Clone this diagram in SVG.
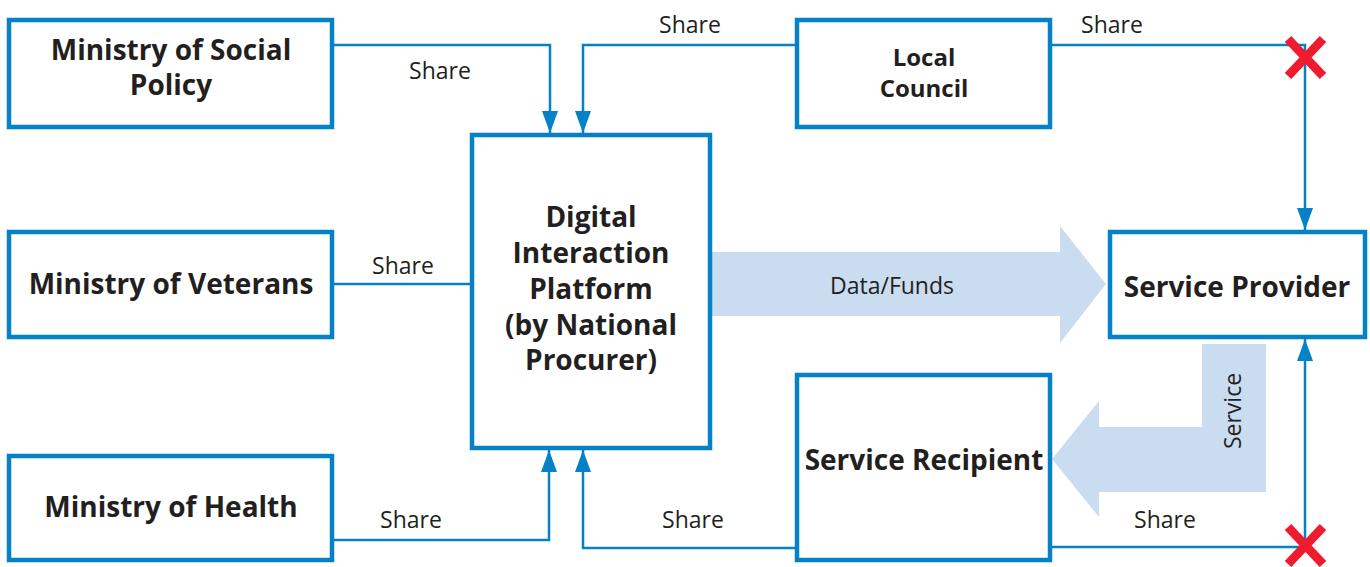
<svg xmlns="http://www.w3.org/2000/svg" width="1370" height="567" viewBox="0 0 1370 567">
  <style>
    .box { fill: #ffffff; stroke: #0581c8; stroke-width: 4.5; }
    .wire { fill: none; stroke: #0581c8; stroke-width: 2.5; }
    .flow { fill: #cadcf0; stroke: none; }
    .title { font-family: "Open Sans", "Noto Sans", sans-serif; font-weight: bold; font-size: 28px; fill: #231f20; text-anchor: middle; }
    .small { font-size: 24px; }
    .lbl { font-family: "Open Sans", "Noto Sans", sans-serif; font-size: 23px; fill: #231f20; text-anchor: middle; }
    .cross { stroke: #ee1c2e; stroke-width: 9; }
  </style>
  <defs>
    <marker id="arrow" viewBox="0 0 22 16" refX="22" refY="8" markerWidth="22" markerHeight="16" markerUnits="userSpaceOnUse" orient="auto">
      <path d="M0,0 L22,8 L0,16 Z" fill="#0581c8"/>
    </marker>
  </defs>

  <!-- wide flow arrows -->
  <g id="flows">
    <path class="flow" d="M712,252 H1060 V226 L1106,284 L1060,343 V316 H712 Z"/>
    <path class="flow" d="M1202,344 H1266 V492 H1099 V517 L1052,459 L1099,401 V427 H1202 Z"/>
  </g>

  <!-- connectors -->
  <g id="connectors">
    <path class="wire" d="M332,45 H550 V133" marker-end="url(#arrow)"/>
    <path class="wire" d="M797,45 H583 V133" marker-end="url(#arrow)"/>
    <path class="wire" d="M332,284 H472"/>
    <path class="wire" d="M332,540 H549 V450" marker-end="url(#arrow)"/>
    <path class="wire" d="M797,548 H583 V450" marker-end="url(#arrow)"/>
    <path class="wire" d="M1050,45 H1305 V230" marker-end="url(#arrow)"/>
    <path class="wire" d="M1050,547 H1305 V339" marker-end="url(#arrow)"/>
    <g class="cross">
      <line x1="1288" y1="39" x2="1323" y2="76"/>
      <line x1="1323" y1="39" x2="1288" y2="76"/>
      <line x1="1288" y1="527" x2="1323" y2="564"/>
      <line x1="1323" y1="527" x2="1288" y2="564"/>
    </g>
    <text class="lbl" x="440" y="79">Share</text>
    <text class="lbl" x="690" y="33">Share</text>
    <text class="lbl" x="403" y="274">Share</text>
    <text class="lbl" x="411" y="528">Share</text>
    <text class="lbl" x="693" y="528">Share</text>
    <text class="lbl" x="1112" y="33">Share</text>
    <text class="lbl" x="1165" y="528">Share</text>
    <text class="lbl" x="892" y="294">Data/Funds</text>
    <text class="lbl" transform="translate(1241,411) rotate(-90)">Service</text>
  </g>

  <g id="social-policy">
    <rect class="box" x="9" y="20" width="323" height="107"/>
    <text class="title" x="171" y="60">Ministry of Social</text>
    <text class="title" x="171" y="95">Policy</text>
  </g>
  <g id="veterans">
    <rect class="box" x="9" y="232" width="323" height="105"/>
    <text class="title" x="171" y="294">Ministry of Veterans</text>
  </g>
  <g id="health">
    <rect class="box" x="9" y="456" width="323" height="104"/>
    <text class="title" x="171" y="517">Ministry of Health</text>
  </g>
  <g id="platform">
    <rect class="box" x="472" y="135" width="238" height="313"/>
    <text class="title" x="591" y="227">Digital</text>
    <text class="title" x="591" y="263">Interaction</text>
    <text class="title" x="591" y="299">Platform</text>
    <text class="title" x="591" y="335">(by National</text>
    <text class="title" x="591" y="370">Procurer)</text>
  </g>
  <g id="local-council">
    <rect class="box" x="797" y="20" width="253" height="107"/>
    <text class="title small" x="924" y="66">Local</text>
    <text class="title small" x="924" y="97">Council</text>
  </g>
  <g id="service-provider">
    <rect class="box" x="1110" y="232" width="255" height="105"/>
    <text class="title" x="1237" y="297">Service Provider</text>
  </g>
  <g id="service-recipient">
    <rect class="box" x="797" y="375" width="253" height="185"/>
    <text class="title" x="924" y="470">Service Recipient</text>
  </g>
</svg>
